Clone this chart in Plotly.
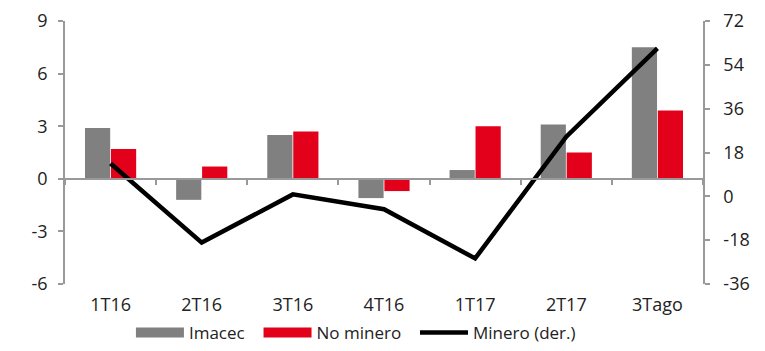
import plotly.graph_objects as go

categories = ["1T16", "2T16", "3T16", "4T16", "1T17", "2T17", "3Tago"]
imacec = [2.9, -1.2, 2.5, -1.1, 0.5, 3.1, 7.5]
no_minero = [1.7, 0.7, 2.7, -0.7, 3.0, 1.5, 3.9]
minero = [13.5, -19.0, 0.8, -5.3, -25.5, 24.5, 60.8]

left_ticks = [-6, -3, 0, 3, 6, 9]
right_ticks = [-36, -18, 0, 18, 36, 54, 72]

GREY = "#808080"
RED = "#E2001A"
AXIS = "#999999"
TXT = "#222222"
PAD = "\u00a0\u00a0"

fig = go.Figure()
fig.add_trace(go.Bar(x=categories, y=imacec, name="Imacec", marker=dict(color=GREY, line=dict(width=0)), showlegend=False))
fig.add_trace(go.Bar(x=categories, y=no_minero, name="No minero", marker=dict(color=RED, line=dict(width=0)), showlegend=False))
fig.add_trace(go.Scatter(x=categories, y=minero, name="Minero (der.)", mode="lines",
                         line=dict(color="black", width=4.5), yaxis="y2", showlegend=False))
# legend entries
fig.add_trace(go.Scatter(x=[categories[0]], y=[None], name="Imacec" + PAD, mode="lines", line=dict(color=GREY, width=11)))
fig.add_trace(go.Scatter(x=[categories[0]], y=[None], name="No minero" + PAD, mode="lines", line=dict(color=RED, width=11)))
fig.add_trace(go.Scatter(x=[categories[0]], y=[None], name="Minero (der.)", mode="lines", line=dict(color="black", width=4.5)))
# helper for the zero-line axis
fig.add_trace(go.Scatter(x=categories, y=[None] * len(categories), xaxis="x2", showlegend=False, hoverinfo="skip"))

fig.update_layout(
    width=765, height=351,
    margin=dict(l=65, r=62, t=21, b=67),
    paper_bgcolor="white", plot_bgcolor="white",
    font=dict(family="Open Sans", size=18, color=TXT),
    barmode="group", bargap=0.43, bargroupgap=0.03,
    xaxis=dict(type="category", categoryorder="array", categoryarray=categories,
               showline=False, ticks="", showgrid=False, zeroline=False, automargin=False,
               ticklabelstandoff=8, tickfont=dict(size=18, color=TXT)),
    xaxis2=dict(type="category", categoryorder="array", categoryarray=categories,
                overlaying="x", matches="x", anchor="free", position=0.4, automargin=False,
                showline=True, linecolor=AXIS, linewidth=1.5, ticks="outside",
                tickson="boundaries", ticklen=5, tickcolor=AXIS, tickwidth=1.5,
                showticklabels=False, showgrid=False, zeroline=False),
    yaxis=dict(range=[-6, 9], tickvals=left_ticks, ticktext=[str(v) for v in left_ticks],
               showgrid=False, zeroline=False, automargin=False,
               showline=True, linecolor=AXIS, linewidth=1.5, ticks="outside",
               ticklen=5, tickcolor=AXIS, tickwidth=1.5, ticklabelstandoff=7,
               tickfont=dict(size=18, color=TXT)),
    yaxis2=dict(range=[-36, 72], tickvals=right_ticks, ticktext=[str(v) for v in right_ticks],
                overlaying="y", side="right", automargin=False,
                showgrid=False, zeroline=False, showline=True, linecolor=AXIS, linewidth=1.5,
                ticks="outside", ticklen=5, tickcolor=AXIS, tickwidth=1.5, ticklabelstandoff=10,
                tickfont=dict(size=18, color=TXT)),
    legend=dict(orientation="h", x=0.456, xanchor="center", yref="container", y=0, yanchor="bottom",
                font=dict(size=17, color=TXT), itemwidth=48, traceorder="normal"),
)

fig.write_html("out.html")
